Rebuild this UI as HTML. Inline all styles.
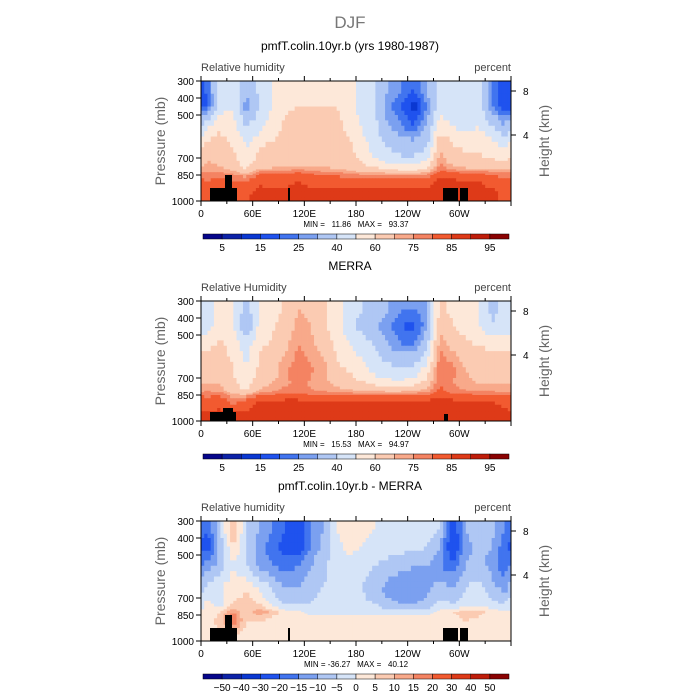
<!DOCTYPE html>
<html><head><meta charset="utf-8">
<style>
html,body{margin:0;padding:0;background:#fff;}
svg{display:block;font-family:"Liberation Sans",sans-serif;}
</style></head>
<body>
<svg id="chart" width="700" height="700" viewBox="0 0 700 700">
<text x="350" y="28" text-anchor="middle" font-size="17" fill="#777">DJF</text>
<g id="panels"></g>
</svg>
<script>
// Longitudes of data columns (deg east)
const lons = [0,15,30,45,60,75,90,105,120,135,150,165,180,195,210,225,240,255,270,285,300,315,330,345];
// Pressure layer edges (mb) for rows
const levelEdges = [300,400,500,600,700,800,850,925,1000];
// Contour levels
const rhLevels = [5,10,15,20,25,30,40,50,60,70,75,80,85,90,95];
const rhLabels = ["5","15","25","40","60","75","85","95"];
const diffLevels = [-50,-40,-30,-20,-15,-10,-5,0,5,10,15,20,30,40,50];
const diffLabels = ["-50","-40","-30","-20","-15","-10","-5","0","5","10","15","20","30","40","50"];
const palette = ["#06068a","#0c22a8","#0a38d2","#1f52ee","#4174ef","#7ba0f0","#afc7f4","#d6e4f8","#fde8d9","#fbcbb2","#f8a98a","#f48362","#f25a30","#de3a18","#bf1d0a","#8a0202"];
const xTicks = [0,60,120,180,240,300];
const xTickLabels = ["0","60E","120E","180","120W","60W"];
const pTicks = [300,400,500,700,850,1000];

// Model RH (panel 1)
const model = [
[22,45,50,32,42,50,58,60,58,58,58,55,45,40,30,25,20,30,45,45,40,45,25,15],
[18,45,50,25,40,50,58,60,60,60,60,55,45,40,25,20,12,25,45,40,40,45,25,15],
[50,58,52,40,45,55,62,64,62,62,62,58,48,42,30,25,20,30,55,50,45,50,40,30],
[65,65,60,50,60,62,65,66,66,66,65,62,55,45,40,35,35,40,70,62,58,58,55,50],
[72,68,65,55,65,65,68,68,68,68,66,65,60,55,50,48,48,55,75,68,65,65,65,62],
[75,75,72,65,78,78,78,80,78,75,75,72,70,70,68,66,66,70,82,80,78,78,76,75],
[80,82,80,80,84,84,84,85,84,84,84,83,82,82,82,82,82,83,87,86,85,85,84,82],
[84,84,84,84,87,86,86,87,86,86,86,87,87,88,87,87,87,87,87,87,87,86,86,84]];
// MERRA RH (panel 2)
const merra = [
[45,58,50,35,50,55,62,70,68,62,55,45,40,35,30,25,25,30,62,58,55,50,38,42],
[45,58,52,30,52,58,65,72,70,62,55,42,36,30,25,20,18,28,68,60,55,50,40,45],
[58,62,55,45,58,62,68,75,72,66,58,50,45,40,30,25,25,38,75,68,62,60,58,58],
[66,68,60,50,62,66,74,78,76,72,62,58,52,45,42,40,42,52,80,76,70,66,64,64],
[70,70,62,55,66,70,74,76,74,72,68,65,62,58,55,55,58,66,80,75,72,70,70,70],
[76,75,66,62,74,76,78,78,76,76,75,74,72,72,72,72,73,75,82,78,77,76,76,75],
[82,84,78,82,86,86,86,86,86,86,86,86,86,86,86,86,86,86,87,86,86,85,85,84],
[86,86,86,86,88,87,88,88,87,87,87,88,88,88,88,88,88,88,88,88,88,88,87,86]];
// Difference (panel 3)
const diff = [
[-20,-5,10,-5,-10,-15,-20,-25,-15,-10,0,5,2,0,-2,-2,-2,-2,-5,-25,-10,-5,-8,-15],
[-25,-8,5,-5,-12,-18,-22,-25,-15,-8,-2,2,0,-3,-3,-3,-3,-5,-10,-28,-12,-8,-10,-18],
[-12,-8,0,-5,-12,-15,-18,-15,-10,-6,-3,-2,-3,-5,-6,-8,-10,-10,-15,-18,-10,-8,-12,-18],
[-3,0,2,3,0,-5,-10,-10,-6,-5,-4,-3,-5,-8,-12,-15,-15,-12,-8,-10,-5,-3,-8,-12],
[2,-3,5,10,5,-2,-5,-6,-5,-4,-3,-3,-4,-5,-8,-10,-10,-8,-3,-5,-3,-2,-3,-5],
[0,5,15,5,15,10,2,2,-2,-2,-3,-2,-2,-2,-2,-2,-2,-2,2,5,8,8,3,2],
[2,8,20,5,5,2,2,2,2,2,2,2,2,2,2,2,2,2,2,3,5,3,2,2],
[2,2,5,2,2,2,2,2,2,2,2,2,2,2,2,2,2,2,2,2,2,2,2,2]];

const NS="http://www.w3.org/2000/svg";
const X0=201,X1=511,PH=120;
function xs(lon){return X0+(lon/360)*(X1-X0);}
const pP=[300,400,500,700,850,1000], pY=[0,17,34,77,94,120];
function ys(p,top){for(let i=0;i<pP.length-1;i++){if(p<=pP[i+1]){const t=(p-pP[i])/(pP[i+1]-pP[i]);return top+pY[i]+t*(pY[i+1]-pY[i]);}}return top+PH;}
function colorFor(v,levels){let i=0;while(i<levels.length&&v>=levels[i])i++;return palette[i];}
function mk(tag,attrs,parent){const e=document.createElementNS(NS,tag);for(const k in attrs)e.setAttribute(k,attrs[k]);parent.appendChild(e);return e;}
function txt(x,y,s,size,anchor,fill,parent,extra){const t=mk('text',Object.assign({x:x,y:y,'font-size':size,'text-anchor':anchor,fill:fill},extra||{}),parent);t.textContent=s;return t;}

const root=document.getElementById('panels');
const panels=[
 {top:81,title:"pmfT.colin.10yr.b (yrs 1980-1987)",left:"Relative humidity",data:model,levels:rhLevels,labels:rhLabels,mm:"MIN =   11.86   MAX =   93.37",topo:1},
 {top:301,title:"MERRA",left:"Relative Humidity",data:merra,levels:rhLevels,labels:rhLabels,mm:"MIN =   15.53   MAX =   94.97",topo:2},
 {top:521,title:"pmfT.colin.10yr.b - MERRA",left:"Relative humidity",data:diff,levels:diffLevels,labels:diffLabels,mm:"MIN = -36.27   MAX =   40.12",topo:1}];

function sample(data,r,c){
  const R=data.length,C=data[0].length;
  const r0=Math.max(0,Math.min(R-1,Math.floor(r))),r1=Math.min(R-1,r0+1),fr=Math.max(0,Math.min(1,r-r0));
  const cc=((c%C)+C)%C,c0=Math.floor(cc),c1=(c0+1)%C,fc=cc-c0;
  const a=data[r0][c0]*(1-fc)+data[r0][c1]*fc,b=data[r1][c0]*(1-fc)+data[r1][c1]*fc;
  return a*(1-fr)+b*fr;
}

panels.forEach((P,pi)=>{
  const g=mk('g',{},root);
  
  
  const T=P.top;
  txt(350,T-31,P.title,12,'middle','#000',g);
  txt(201,T-10,P.left,11,'start','#444',g);
  txt(511,T-10,'percent',11,'end','#444',g);
  const cg=mk('g',{},g);
  
  
  const D=P.data,R=D.length,C=D[0].length,sub=4;
  for(let r=0;r<R;r++){
    for(let si=0;si<sub;si++){
      const pa=levelEdges[r]+(levelEdges[r+1]-levelEdges[r])*si/sub,pb=levelEdges[r]+(levelEdges[r+1]-levelEdges[r])*(si+1)/sub;
      const y0=ys(pa,T),y1=ys(pb,T);
      for(let c=0;c<C;c++){
        for(let sj=0;sj<sub;sj++){
          const la=lons[c]+15*sj/sub,lb=lons[c]+15*(sj+1)/sub;
          const v=sample(D,r+(si+0.5)/sub-0.5,c+(sj+0.5)/sub-0.5);
          const rc=mk('rect',{x:xs(la).toFixed(2),y:y0.toFixed(2),width:(xs(lb)-xs(la)+0.4).toFixed(2),height:(y1-y0+0.4).toFixed(2),fill:colorFor(v,P.levels)},cg);
          
          
        }
      }
    }
  }
  const tg=mk('g',{fill:'#000'},g);
  
  
  if(P.topo===1){
    mk('rect',{x:210,y:T+107,width:27,height:13},tg);
    mk('rect',{x:225,y:T+94,width:7,height:14},tg);
    mk('rect',{x:288,y:T+107,width:2,height:13},tg);
    mk('rect',{x:443,y:T+107,width:15,height:13},tg);
    mk('rect',{x:460,y:T+107,width:8,height:13},tg);
  } else {
    mk('rect',{x:210,y:T+111,width:26,height:9},tg);
    mk('rect',{x:223,y:T+107,width:10,height:13},tg);
    mk('rect',{x:444,y:T+113,width:4,height:7},tg);
  }
  const fr=mk('rect',{x:X0,y:T,width:X1-X0,height:PH,fill:'none',stroke:'#000','stroke-width':1},g);
  
  
  for(let l=0;l<=360;l+=30){
    const major=l%60===0,len=major?5:3;
    mk('line',{x1:xs(l),x2:xs(l),y1:T+PH,y2:T+PH+len,stroke:'#000'},g);
    mk('line',{x1:xs(l),x2:xs(l),y1:T,y2:T-len,stroke:'#000'},g);
  }
  xTicks.forEach((l,i)=>{const t=txt(xs(l),T+PH+16,xTickLabels[i],10,'middle','#000',g);});
  pTicks.forEach(p=>{const y=ys(p,T);mk('line',{x1:X0-5,x2:X0,y1:y,y2:y,stroke:'#000'},g);const t=txt(X0-7,y+4,String(p),10,'end','#000',g);});
  [[8,10],[4,54]].forEach(h=>{const y=T+h[1];mk('line',{x1:X1,x2:X1+5,y1:y,y2:y,stroke:'#000'},g);const t=txt(X1+12,y+4,String(h[0]),10,'start','#000',g);});
  const yl=txt(0,0,'Pressure (mb)',14,'middle','#666',g,{transform:`translate(165,${T+60}) rotate(-90)`});
  const yr=txt(0,0,'Height (km)',14,'middle','#666',g,{transform:`translate(549,${T+60}) rotate(-90)`});
  const mm=txt(356,T+PH+26,P.mm,8,'middle','#000',g,{style:'white-space:pre'});
  const cb=mk('g',{},g);
  
  
  const bx0=203,bx1=509,bw=(bx1-bx0)/palette.length,by=T+153;
  palette.forEach((c,i)=>{const r=mk('rect',{x:bx0+i*bw,y:by,width:bw,height:5,fill:c,stroke:'#000','stroke-width':0.5},cb);});
  if(P.labels.length===8){
    P.labels.forEach((s,i)=>{txt(bx0+(2*i+1)*bw,by+17,s,10,'middle','#000',cb);});
  } else {
    P.labels.forEach((s,i)=>{txt(bx0+(i+1)*bw,by+17,s.replace('-','−'),10,'middle','#000',cb);});
  }
});
</script>
</body></html>
